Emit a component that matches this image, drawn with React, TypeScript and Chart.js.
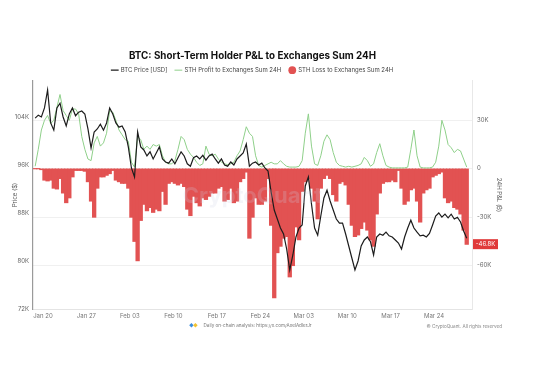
import React, { useEffect, useRef } from 'react';
import { Chart, registerables } from 'chart.js';

Chart.register(...registerables);

// x values are day-of-year 2025 (Jan 1 = 1), one point every 12 hours
const DAY0 = 18.75;
const STEP = 0.5;

// BTC price, thousands of USD
const PRICE_K = [
  103.8, 104.3, 104.0, 105.5, 108.5, 103.0, 101.8, 105.5, 106.3, 104.0,
  102.5, 104.5, 105.5, 104.2, 104.8, 105.0, 104.5, 102.0, 98.8, 101.5,
  102.0, 102.8, 101.8, 103.0, 105.5, 104.5, 103.0, 102.3, 102.5, 101.5,
  99.0, 95.5, 94.0, 101.5, 99.0, 98.5, 97.5, 98.2, 97.0, 98.0,
  99.0, 97.0, 96.5, 96.3, 97.0, 96.2, 97.2, 98.2, 97.5, 96.2,
  95.8, 97.2, 97.5, 97.0, 97.6, 96.8, 97.5, 97.8, 97.0, 96.3,
  97.0, 96.0, 95.8, 96.5, 96.0, 97.0, 97.5, 98.0, 99.5, 95.8,
  96.3, 96.5, 96.0, 96.3, 95.5, 95.0, 91.5, 88.5, 87.0, 85.5,
  84.5, 82.0, 78.5, 81.0, 84.0, 85.5, 86.0, 92.5, 94.0, 89.5,
  85.5, 84.3, 87.5, 90.5, 91.8, 90.0, 88.5, 87.0, 86.3, 86.3,
  84.5, 82.5, 80.5, 78.5, 80.0, 82.5, 83.5, 84.0, 83.2, 81.0,
  84.0, 84.5, 84.3, 84.8, 84.2, 84.0, 83.5, 83.0, 82.0, 84.0,
  85.5, 86.8, 85.5, 84.8, 84.2, 84.3, 84.0, 84.6, 86.0, 87.5,
  88.0, 87.3, 87.8, 87.2, 87.8, 87.0, 87.3, 86.5, 85.0, 83.8,
];

// STH profit to exchanges, thousands of BTC
const PROFIT_K = [
  1.5, 12, 24, 30, 33, 28, 30, 38, 46, 36,
  33, 30, 37, 37, 34, 20, 12, 6, 5, 16,
  20, 14, 16, 22, 36, 35, 30, 24, 21, 18,
  17, 4, 1, 20, 18, 12, 14, 12, 15, 14,
  15, 8, 4, 3, 3, 5, 12, 20, 18, 12,
  9, 7, 4, 2, 3, 14, 9, 8, 9, 6,
  4, 3, 2.5, 3, 4, 8, 11, 18, 26, 22,
  20, 8, 2, 1, 2, 3, 4, 3, 3, 5,
  3, 1.5, 1, 1, 1, 1.5, 5, 22, 34, 14,
  3, 2, 8, 17, 21, 18, 10, 4, 2, 1.5,
  1, 1.5, 1, 1.5, 2, 3, 7, 5, 1.5, 3,
  10, 15.5, 8, 2, 1, 0.5, 0.5, 0.5, 0.5, 0.5,
  1, 12, 24, 8, 1, 0.5, 0.5, 0.5, 1, 4,
  14, 30, 24, 15, 13, 10, 12, 11, 6, 1,
];

// STH loss to exchanges, thousands of BTC (negative)
const LOSS_K = [
  0, 0, -0.5, -7, -7.5, -7, -12, -12.5, -6, -15,
  -21, -18, -5, -1, -1, -1, -1.5, -8, -20, -30,
  -12, -5, -5, -4, -3, -1, -7, -8, -9, -9,
  -12, -30, -45, -57, -32, -22, -26, -24, -27, -25,
  -26, -14, -22, -9, -8, -9, -10, -9, -11, -25,
  -29, -17, -21, -23, -18, -19, -17, -15, -15, -12,
  -11, -20, -19, -12, -21, -20, -8, -6, -2, -43,
  -30, -18, -22, -22, -20, -6, -35, -80, -52, -48,
  -43, -42, -67, -60, -36, -44, -14, -8, -6, -12,
  -20, -31, -12, -6, -4, -6, -16, -20, -9, -8,
  -10, -22, -35, -42, -41, -37, -33, -38, -44, -48,
  -28, -15, -9, -8, -8, -7, -8, -1, -12, -22,
  -20, -13, -12, -20, -33, -15, -13, -12, -5, -4,
  -3, -2, -18, -21, -20, -24, -25, -28, -38, -46.8,
];

const TICK_DAYS = [20, 27, 34, 41, 48, 55, 62, 69, 76, 83];
const TICK_LABELS = ['Jan 20', 'Jan 27', 'Feb 03', 'Feb 10', 'Feb 17', 'Feb 24', 'Mar 03', 'Mar 10', 'Mar 17', 'Mar 24'];
const PRICE_TICKS = [72000, 80000, 88000, 96000, 104000];
const PNL_TICKS = [-60000, -30000, 0, 30000];
const LAST_LOSS_LABEL = '-46.8K';

const TITLE = 'BTC: Short-Term Holder P&L to Exchanges Sum 24H';
const FOOTER_LEFT = 'Daily on-chain analysis: https://x.com/AxelAdlerJr';
const FOOTER_RIGHT = '© CryptoQuant. All rights reserved';
const FONT = 'Inter';

const toPoints = (arr: number[]) => arr.map((v, i) => ({ x: DAY0 + i * STEP, y: v * 1000 }));

const extras = {
  id: 'extras',
  beforeInit(chart: any) {
    const lg = chart.legend;
    if (lg) {
      const fit = lg.fit.bind(lg);
      lg.fit = function () {
        fit();
        this.height = 21.8;
      };
    }
  },
  afterDatasetsDraw(chart: any) {
    const { ctx, chartArea } = chart;
    ctx.save();
    ctx.font = `bold 22px ${FONT}`;
    ctx.fillStyle = 'rgba(205, 210, 228, 0.22)';
    ctx.textAlign = 'center';
    ctx.textBaseline = 'middle';
    ctx.fillText('CryptoQuant', (chartArea.left + chartArea.right) / 2, 196);
    ctx.restore();
  },
  afterDraw(chart: any) {
    const { ctx, chartArea } = chart;
    const y1 = chart.scales.y1;
    ctx.save();
    // last value badge
    const last = LOSS_K[LOSS_K.length - 1] * 1000;
    const py = y1.getPixelForValue(last);
    ctx.fillStyle = '#e03a3a';
    ctx.fillRect(chartArea.right + 1, py - 5, 25, 10);
    ctx.fillStyle = '#ffffff';
    ctx.font = `6px ${FONT}`;
    ctx.textAlign = 'center';
    ctx.textBaseline = 'middle';
    ctx.fillText(LAST_LOSS_LABEL, chartArea.right + 13.5, py + 0.5);
    // footer
    const cx = (chartArea.left + chartArea.right) / 2;
    ctx.font = `4.6px ${FONT}`;
    ctx.fillStyle = '#777';
    ctx.textAlign = 'center';
    ctx.fillText(FOOTER_LEFT, cx + 5, chartArea.bottom + 17);
    ctx.fillStyle = '#3d8fe0';
    ctx.fillText('◆', cx - 61, chartArea.bottom + 17);
    ctx.fillStyle = '#f2c230';
    ctx.fillText('◆', cx - 57, chartArea.bottom + 17);
    ctx.fillStyle = '#888';
    ctx.textAlign = 'right';
    ctx.fillText(FOOTER_RIGHT, 502, chartArea.bottom + 18);
    ctx.restore();
  },
};

export default function App() {
  const ref = useRef<HTMLCanvasElement>(null);

  useEffect(() => {
    const canvas = ref.current;
    if (!canvas) return;
    Chart.defaults.font.family = FONT;
    const chart = new Chart(canvas, {
      type: 'line',
      data: {
        datasets: [
          {
            type: 'line',
            label: 'BTC Price [USD]',
            data: toPoints(PRICE_K),
            yAxisID: 'y',
            borderColor: '#1c1c1c',
            borderWidth: 1.2,
            pointRadius: 0,
            pointStyle: 'line',
            tension: 0,
            order: 0,
          },
          {
            type: 'line',
            label: 'STH Profit to Exchanges Sum 24H',
            data: toPoints(PROFIT_K),
            yAxisID: 'y1',
            borderColor: '#8fd08a',
            borderWidth: 1,
            pointRadius: 0,
            pointStyle: 'line',
            tension: 0,
            order: 1,
          },
          {
            type: 'bar',
            label: 'STH Loss to Exchanges Sum 24H',
            data: toPoints(LOSS_K),
            yAxisID: 'y1',
            backgroundColor: '#e25252',
            borderWidth: 0,
            inflateAmount: 0.6,
            barPercentage: 1,
            categoryPercentage: 1,
            order: 2,
          },
        ] as any,
      },
      options: {
        responsive: false,
        animation: false,
        devicePixelRatio: 1,
        layout: { padding: { top: 0, left: 0, right: 0, bottom: 36 } },
        plugins: {
          title: {
            display: true,
            text: TITLE,
            fullSize: false,
            color: '#111',
            font: { size: 9.8, weight: 'bold' },
            padding: { top: 50, bottom: -2.6 },
          },
          legend: {
            display: true,
            position: 'top',
            fullSize: false,
            labels: {
              usePointStyle: true,
              boxHeight: 5.5,
              padding: 8,
              color: '#444',
              font: { size: 6 },
            },
          },
          tooltip: { enabled: false },
        },
        scales: {
          x: {
            type: 'linear',
            min: 18.4,
            max: 89.1,
            offset: false,
            grid: { display: false, drawTicks: false },
            border: { display: true, color: '#e4e4e4' },
            ticks: {
              padding: 4,
              color: '#777',
              font: { size: 6 },
              maxRotation: 0,
              autoSkip: false,
              callback: (_v: any, i: number) => TICK_LABELS[i],
            },
            afterBuildTicks: (s: any) => {
              s.ticks = TICK_DAYS.map((v) => ({ value: v }));
            },
            afterFit: (s: any) => {
              s.height = 20;
            },
          },
          y: {
            type: 'linear',
            position: 'left',
            min: 72000,
            max: 110000,
            grid: { display: false, drawTicks: false },
            border: { display: true, color: '#9a9a9a', width: 1.2 },
            ticks: {
              padding: 4,
              color: '#666',
              font: { size: 6 },
              callback: (v: any) => `${Number(v) / 1000}K`,
            },
            title: {
              display: true,
              text: 'Price ($)',
              color: '#555',
              font: { size: 6 },
              padding: { top: 11.4, bottom: 0 },
            },
            afterBuildTicks: (s: any) => {
              s.ticks = PRICE_TICKS.map((v) => ({ value: v }));
            },
            afterFit: (s: any) => {
              s.width = 33;
            },
          },
          y1: {
            type: 'linear',
            position: 'right',
            min: -87000,
            max: 54400,
            grid: { display: true, drawTicks: false, color: '#f0f0f0' },
            border: { display: true, color: '#e8e8e8' },
            ticks: {
              padding: 5,
              color: '#666',
              font: { size: 6 },
              callback: (v: any) => (Number(v) === 0 ? '0' : `${Number(v) / 1000}K`),
            },
            title: {
              display: true,
              text: '24H P&L (₿)',
              color: '#555',
              font: { size: 6 },
              padding: { top: 36.4, bottom: 0 },
            },
            afterBuildTicks: (s: any) => {
              s.ticks = PNL_TICKS.map((v) => ({ value: v }));
            },
            afterFit: (s: any) => {
              s.width = 67;
            },
          },
        },
      } as any,
      plugins: [extras as any],
    });
    return () => chart.destroy();
  }, []);

  return (
    <div style={{ position: 'fixed', left: 0, top: 0, width: 539, height: 365, background: '#fff' }}>
      <canvas ref={ref} width={539} height={365} style={{ display: 'block', width: 539, height: 365 }} />
    </div>
  );
}
